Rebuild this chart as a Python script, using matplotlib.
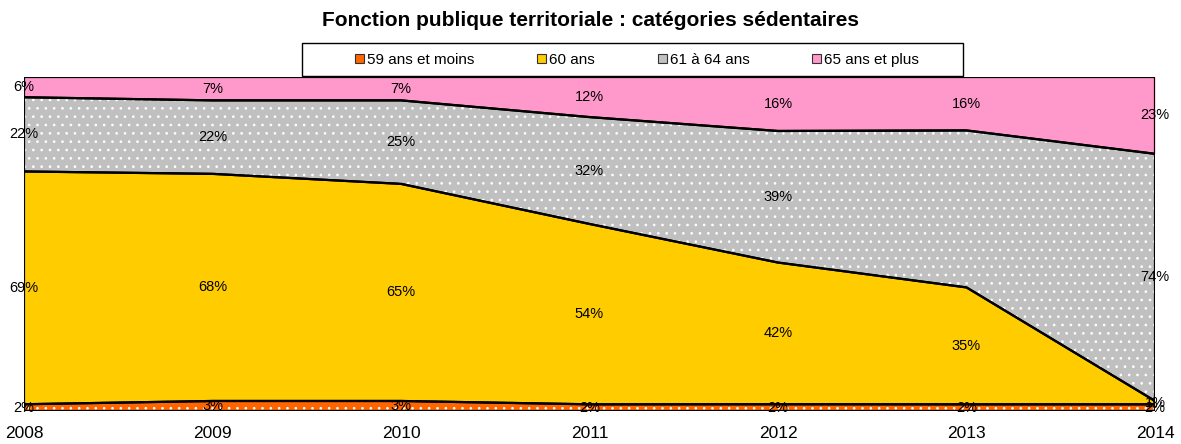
import numpy as np
import matplotlib.pyplot as plt
from matplotlib.patches import Patch, Rectangle

plt.rcParams['font.family'] = ['Liberation Sans', 'DejaVu Sans']
plt.rcParams['hatch.linewidth'] = 0.7

years = [2008, 2009, 2010, 2011, 2012, 2013, 2014]
series = ['59 ans et moins', '60 ans', '61 à 64 ans', '65 ans et plus']
moins59 = [2, 3, 3, 2, 2, 2, 2]
ans60 = [69, 68, 65, 54, 42, 35, 1]
ans61_64 = [22, 22, 25, 32, 39, 47, 74]
plus65 = [6, 7, 7, 12, 16, 16, 23]
# labels shown on the chart (the 2013 grey label is absent)
show_61_64 = [True, True, True, True, True, False, True]

colors = ['#FF6600', '#FFCC00', '#C0C0C0', '#FF99CC']
hatches = ['..', None, '..', None]

data = np.array([moins59, ans60, ans61_64, plus65], dtype=float)
pct = data / data.sum(axis=0) * 100
cum = np.vstack([np.zeros(len(years)), np.cumsum(pct, axis=0)])

W, H = 1181, 444
fig = plt.figure(figsize=(W / 100, H / 100), dpi=100)
ax = fig.add_axes([24 / W, 1 - 411 / H, (1155 - 24) / W, (411 - 77) / H])
x = np.array(years)

for i in range(len(series)):
    lo, hi = cum[i], cum[i + 1]
    ax.fill_between(x, lo, hi, facecolor=colors[i], edgecolor='white' if hatches[i] else colors[i],
                    hatch=hatches[i], linewidth=0, zorder=1)
    ax.fill_between(x, lo, hi, facecolor='none', edgecolor='black', linewidth=1.6, zorder=2)

for i in range(len(series)):
    for j, yr in enumerate(years):
        if i == 2 and not show_61_64[j]:
            continue
        yc = (cum[i][j] + cum[i + 1][j]) / 2
        ax.text(yr, yc, f"{int(data[i][j])}%", ha='center', va='center', fontsize=10.5, zorder=5)

ax.set_xlim(2008, 2014)
ax.set_ylim(0, 100)
ax.set_yticks([])
ax.set_xticks(years)
ax.set_xticklabels([str(y) for y in years], fontsize=12.5)
ax.tick_params(axis='x', length=0, pad=11)
for s in ax.spines.values():
    s.set_visible(False)

# legend box (wider than its entries, as in the original)
fig.patches.append(Rectangle((302 / W, 1 - 76 / H), (963 - 302) / W, (76 - 43) / H,
                             transform=fig.transFigure, facecolor='white', edgecolor='black',
                             linewidth=1.0, zorder=0))
handles = [Patch(facecolor=colors[i], edgecolor='#333333', linewidth=0.8, label=series[i])
           for i in range(len(series))]
leg = fig.legend(handles=handles, loc='center', bbox_to_anchor=(637 / W, 1 - 60 / H), ncol=4,
                 fontsize=11, frameon=False,
                 handlelength=0.6, handleheight=0.6, handletextpad=0.2, columnspacing=4.1,
                 borderpad=0.2, borderaxespad=0)

fig.text(0.5, 1 - 20 / H, "Fonction publique territoriale : catégories sédentaires",
         ha='center', va='center', fontsize=15, fontweight='bold')

fig.savefig('out.png', dpi=100)
